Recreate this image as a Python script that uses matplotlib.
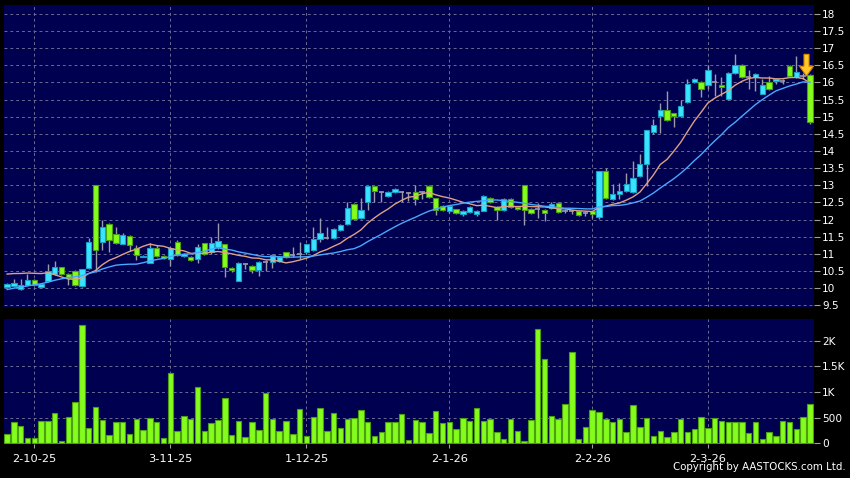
import numpy as np
import pandas as pd
import matplotlib
matplotlib.use("Agg")
import matplotlib.pyplot as plt
from matplotlib.ticker import FixedLocator, FuncFormatter

# daily candles, oldest first (26-9-25 .. 23-3-26)
opens = [
    10.03, 10.05, 9.97, 10.08, 10.24, 10.03, 10.20, 10.40, 10.62, 10.42,
    10.50, 10.05, 10.59, 13.00, 11.35, 11.88, 11.57, 11.30, 11.53, 11.18,
    10.92, 10.74, 11.18, 10.93, 10.86, 11.35, 10.94, 10.92, 10.84, 11.32,
    11.04, 11.20, 11.28, 10.60, 10.22, 10.69, 10.65, 10.52, 10.76, 10.75,
    10.79, 11.04, 10.96, 11.00, 11.06, 11.10, 11.42, 11.46, 11.45, 11.69,
    11.86, 12.45, 12.06, 12.50, 12.97, 12.80, 12.70, 12.81, 12.80, 12.78,
    12.80, 12.80, 12.99, 12.62, 12.40, 12.25, 12.30, 12.17, 12.23, 12.16,
    12.26, 12.64, 12.37, 12.27, 12.59, 12.36, 13.01, 12.32, 12.30, 12.29,
    12.33, 12.48, 12.25, 12.24, 12.24, 12.20, 12.24, 12.08, 13.41, 12.60,
    12.75, 12.83, 12.80, 13.27, 13.63, 14.55, 15.03, 15.20, 15.10, 15.03,
    15.42, 16.01, 16.01, 15.93, 16.00, 15.93, 15.51, 16.27, 16.51, 16.15,
    16.17, 15.67, 16.00, 16.03, 16.05, 16.49, 16.16, 16.18, 16.22,
]
closes = [
    10.12, 10.16, 10.08, 10.24, 10.08, 10.12, 10.51, 10.62, 10.41, 10.31,
    10.08, 10.55, 11.35, 11.10, 11.79, 11.39, 11.31, 11.55, 11.27, 10.96,
    10.95, 11.18, 10.93, 10.88, 11.18, 10.98, 11.00, 10.83, 11.20, 11.00,
    11.32, 11.38, 10.62, 10.52, 10.72, 10.69, 10.52, 10.75, 10.76, 10.96,
    10.92, 10.91, 10.96, 11.00, 11.28, 11.42, 11.60, 11.46, 11.72, 11.85,
    12.35, 12.02, 12.29, 12.98, 12.82, 12.80, 12.80, 12.90, 12.80, 12.78,
    12.59, 12.80, 12.67, 12.27, 12.29, 12.39, 12.20, 12.25, 12.37, 12.24,
    12.70, 12.50, 12.27, 12.59, 12.37, 12.30, 12.29, 12.18, 12.30, 12.20,
    12.45, 12.22, 12.25, 12.24, 12.14, 12.20, 12.16, 13.41, 12.63, 12.76,
    12.83, 13.04, 13.21, 13.62, 14.60, 14.76, 15.20, 14.91, 15.03, 15.32,
    15.95, 16.10, 15.80, 16.35, 16.00, 15.88, 16.27, 16.51, 16.16, 16.15,
    16.25, 15.93, 15.80, 16.10, 16.05, 16.20, 16.32, 16.18, 14.86,
]
highs = [
    10.15, 10.28, 10.27, 10.42, 10.26, 10.16, 10.71, 10.80, 10.63, 10.44,
    10.52, 10.57, 11.47, 13.00, 11.99, 11.90, 11.79, 11.62, 11.55, 11.27,
    10.98, 11.32, 11.27, 10.98, 11.20, 11.40, 11.02, 10.93, 11.30, 11.33,
    11.50, 11.89, 11.30, 10.62, 10.75, 10.72, 10.67, 10.78, 10.82, 11.00,
    10.95, 11.06, 11.20, 11.34, 11.30, 11.79, 12.04, 11.78, 11.75, 11.88,
    12.52, 12.47, 12.64, 12.99, 12.99, 12.82, 12.83, 12.93, 12.82, 12.80,
    13.01, 12.82, 13.01, 12.64, 12.42, 12.41, 12.32, 12.28, 12.40, 12.27,
    12.73, 12.66, 12.39, 12.62, 12.64, 12.40, 13.02, 12.34, 12.47, 12.31,
    12.50, 12.50, 12.30, 12.28, 12.26, 12.24, 12.26, 13.42, 13.50, 13.05,
    13.07, 13.35, 13.70, 13.90, 14.62, 14.92, 15.40, 15.76, 15.12, 15.50,
    16.10, 16.12, 16.03, 16.51, 16.25, 16.15, 16.30, 16.83, 16.53, 16.35,
    16.28, 16.10, 16.18, 16.13, 16.10, 16.51, 16.76, 16.28, 16.24,
]
lows = [
    10.00, 10.02, 9.95, 10.05, 10.05, 10.00, 10.18, 10.38, 10.38, 10.08,
    10.05, 10.03, 10.57, 10.47, 11.10, 11.06, 11.28, 11.28, 11.08, 10.81,
    10.90, 10.72, 10.90, 10.85, 10.65, 10.95, 10.90, 10.80, 10.72, 10.97,
    11.00, 11.15, 10.32, 10.48, 10.20, 10.55, 10.45, 10.36, 10.50, 10.60,
    10.76, 10.88, 10.90, 10.85, 11.00, 11.08, 11.35, 11.42, 11.42, 11.66,
    11.83, 12.00, 12.02, 12.29, 12.52, 12.52, 12.67, 12.78, 12.52, 12.55,
    12.42, 12.60, 12.62, 12.12, 12.25, 12.18, 12.15, 12.10, 12.20, 12.10,
    12.24, 12.48, 12.00, 12.25, 12.35, 12.28, 11.85, 12.16, 12.05, 11.95,
    12.30, 12.20, 12.18, 12.15, 12.10, 12.10, 12.05, 12.03, 12.60, 12.58,
    12.60, 12.80, 12.78, 13.24, 12.97, 14.50, 14.52, 14.88, 14.70, 15.00,
    15.40, 15.98, 15.58, 15.80, 15.60, 15.60, 15.49, 16.25, 16.13, 15.80,
    15.75, 15.65, 15.78, 15.95, 15.95, 16.18, 16.14, 16.10, 14.80,
]
# volume in thousands of shares
volume = [
    175, 409, 337, 104, 97, 435, 441, 584, 52, 506,
    811, 2304, 299, 707, 454, 162, 415, 415, 188, 474,
    260, 493, 415, 97, 1363, 234, 532, 467, 1103, 247,
    402, 461, 889, 162, 435, 123, 415, 260, 973, 474,
    240, 435, 182, 675, 143, 506, 681, 247, 590, 305,
    467, 487, 642, 422, 136, 214, 422, 422, 571, 58,
    454, 422, 208, 636, 389, 415, 279, 487, 425, 688,
    428, 474, 214, 91, 467, 234, 39, 454, 2226, 1635,
    526, 474, 772, 1785, 91, 318, 649, 604, 467, 415,
    474, 221, 746, 325, 500, 136, 247, 117, 221, 474,
    221, 279, 506, 299, 493, 441, 422, 422, 422, 208,
    415, 78, 214, 143, 435, 422, 273, 506, 772,
]
# closes before the visible window (only used to warm up the moving averages)
prior_closes = [
    9.40, 9.45, 9.50, 9.42, 9.55, 9.60, 9.50, 9.55, 9.58, 9.55,
    10.00, 10.06, 10.12, 10.15, 10.20, 10.26, 11.20, 11.05, 10.94,
]

tick_bars = [4, 24, 44, 65, 86, 103]
tick_labels = ["2-10-25", "3-11-25", "1-12-25", "2-1-26", "2-2-26", "2-3-26"]
price_ticks = [9.5, 10, 10.5, 11, 11.5, 12, 12.5, 13, 13.5, 14, 14.5,
               15, 15.5, 16, 16.5, 17, 17.5, 18]
vol_ticks = [0, 500, 1000, 1500, 2000]

NAVY = "#000050"
UP = "#38e4ff"
UP_EDGE = "#1aa0c4"
DOWN = "#84fc1c"
DOWN_EDGE = "#4aa010"
WICK = "#9a9aaa"
GRID = "#6a6a94"

o = np.array(opens)
c = np.array(closes)
h = np.array(highs)
l = np.array(lows)
x = np.arange(len(c))

allc = pd.Series(prior_closes + closes)
ma10 = allc.rolling(10).mean().values[len(prior_closes):]
ma20 = allc.rolling(20).mean().values[len(prior_closes):]

fig = plt.figure(figsize=(8.5, 4.78), dpi=100, facecolor="black")
ax = fig.add_axes([4 / 850, 171 / 478, 810 / 850, 302 / 478])
axv = fig.add_axes([4 / 850, 34 / 478, 810 / 850, 125 / 478])

for a in (ax, axv):
    a.set_facecolor(NAVY)
    for s in a.spines.values():
        s.set_visible(False)
    a.set_xlim(-0.45, len(c) - 0.4)
    a.xaxis.set_major_locator(FixedLocator(tick_bars))
    a.grid(True, color=GRID, lw=0.7, ls=(0, (3, 3)))
    a.set_axisbelow(True)
    a.yaxis.tick_right()
    a.tick_params(axis="y", colors="white", labelsize=7.6, length=4,
                  width=0.8, pad=2, color="#a0a0a0")

# price panel
ax.set_ylim(9.45, 18.26)
ax.yaxis.set_major_locator(FixedLocator(price_ticks))
ax.yaxis.set_major_formatter(FuncFormatter(lambda v, p: "%g" % v))
ax.tick_params(axis="x", length=0, labelbottom=False)

w = 0.78
ax.vlines(x, l, h, color=WICK, lw=1.0, zorder=2)
up = c > o
dn = c < o
eq = c == o
ax.bar(x[up], (c - o)[up], bottom=o[up], width=w, color=UP,
       edgecolor=UP_EDGE, lw=0.8, zorder=3)
ax.bar(x[dn], (o - c)[dn], bottom=c[dn], width=w, color=DOWN,
       edgecolor=DOWN_EDGE, lw=0.8, zorder=3)
ax.hlines(c[eq], x[eq] - w / 2, x[eq] + w / 2, color=WICK, lw=1.2, zorder=3)

ax.plot(x, ma10, color="#e0a084", lw=1.0, zorder=4)
ax.plot(x, ma20, color="#48a8ff", lw=1.0, zorder=4)

# down arrow over the last session
last = x[-1] - 0.5
ax.annotate("", xy=(last, h[-1] - 0.05), xytext=(last, h[-1] + 0.58),
            arrowprops=dict(arrowstyle="simple,head_length=0.7,head_width=1.0,tail_width=0.36",
                            fc="#ffc828", ec="#d88a00", lw=0.8,
                            shrinkA=0, shrinkB=0), zorder=6)

# volume panel
axv.set_ylim(-14, 2423)
axv.yaxis.set_major_locator(FixedLocator(vol_ticks))
axv.yaxis.set_major_formatter(FuncFormatter(
    lambda v, p: "0" if v == 0 else ("%gK" % (v / 1000) if v >= 1000 else "%d" % v)))
axv.bar(x, volume, width=0.8, color=DOWN, edgecolor=DOWN_EDGE, lw=0.8, zorder=3)
axv.set_xticklabels(tick_labels)
axv.tick_params(axis="x", colors="white", labelsize=8.2, length=3, width=0.8,
                pad=4, color="#a0a0a0")

fig.text(0.995, 0.012, "Copyright by AASTOCKS.com Ltd.", color="white",
         fontsize=7.4, ha="right", va="bottom")

fig.savefig("out.png", dpi=100, facecolor="black")
